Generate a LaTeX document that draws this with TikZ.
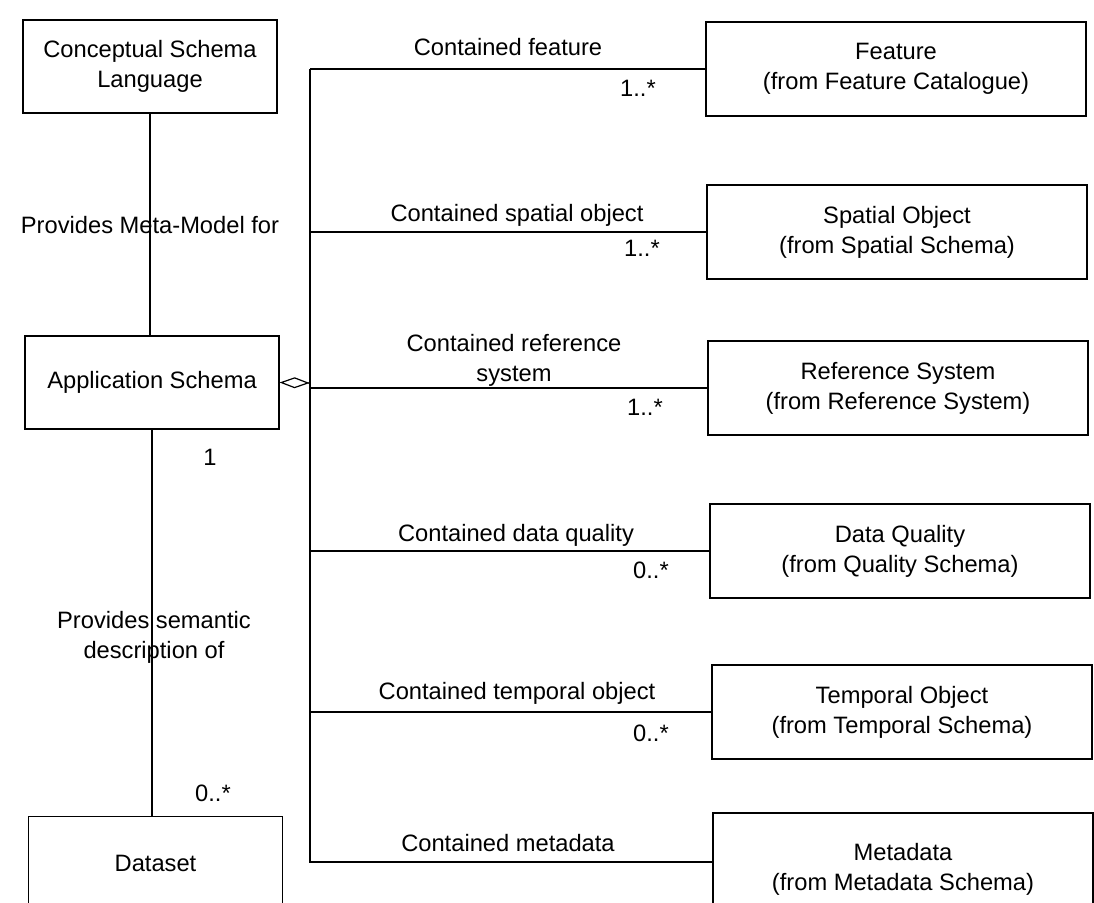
\documentclass[tikz,border=0pt]{standalone}
\usepackage{fontspec}
\setmainfont{Liberation Sans}
\usetikzlibrary{arrows.meta}

\begin{document}
\begin{tikzpicture}[x=1pt,y=-1pt,line width=1.2pt,
  every node/.style={font=\fontsize{23.7}{30}\selectfont},
  umlbox/.style={draw,align=center,inner sep=0pt},
  leftbox/.style={umlbox,minimum width=254pt,minimum height=93pt},
  rightbox/.style={umlbox,minimum width=380pt,minimum height=94pt},
  aggr/.style={-{Diamond[open,length=30pt,width=11pt,line width=1.2pt]}}]
  \useasboundingbox (0,0) rectangle (1094,902);
  \node[leftbox] (csl) at (150,66.5) {Conceptual Schema\\Language};
  \node[leftbox] (app) at (152,382.5) {Application Schema};
  \node[leftbox] (data) at (155.5,863) {Dataset};
  \node[rightbox] (feat) at (896,69) {Feature\\(from Feature Catalogue)};
  \node[rightbox] (spat) at (897,232) {Spatial Object\\(from Spatial Schema)};
  \node[rightbox] (refs) at (898,388) {Reference System\\(from Reference System)};
  \node[rightbox] (qual) at (900,551) {Data Quality\\(from Quality Schema)};
  \node[rightbox] (temp) at (902,712) {Temporal Object\\(from Temporal Schema)};
  \node[rightbox,minimum height=112pt] (meta) at (903,869) {Metadata\\(from Metadata Schema)};
  \coordinate (hub) at (310,383);
  \coordinate (mend) at ([yshift=7pt]meta.west);
  \draw (csl.south) -- (csl.south |- app.north);
  \draw (app.south) -- (app.south |- data.north);
  \draw[aggr] (hub) -- (app.east);
  \draw (feat.west -| hub) -- (mend -| hub) -- (mend);
  \foreach \b in {feat,spat,refs,qual,temp}
    \draw (\b.west -| hub) -- (\b.west);
  \node (lmeta) at (150,225) {Provides Meta-Model for};
  \node[align=center] (lsem) at (154,637) {Provides semantic\\description of};
  \node (mapp) at (210,457) {1};
  \node (mdata) at (213,793) {0..*};
  \node (lfeat) at (508,47) {Contained feature};
  \node (lspat) at (517,215) {Contained spatial object};
  \node[align=center] (lrefs) at (514,360) {Contained reference\\system};
  \node (lqual) at (516,535) {Contained data quality};
  \node (ltemp) at (517,693) {Contained temporal object};
  \node (lmeta2) at (508,843) {Contained metadata};
  \node (mfeat) at (638,88) {1..*};
  \node (mspat) at (642,248) {1..*};
  \node (mrefs) at (645,407) {1..*};
  \node (mqual) at (651,570) {0..*};
  \node (mtemp) at (651,733) {0..*};
\end{tikzpicture}
\end{document}
